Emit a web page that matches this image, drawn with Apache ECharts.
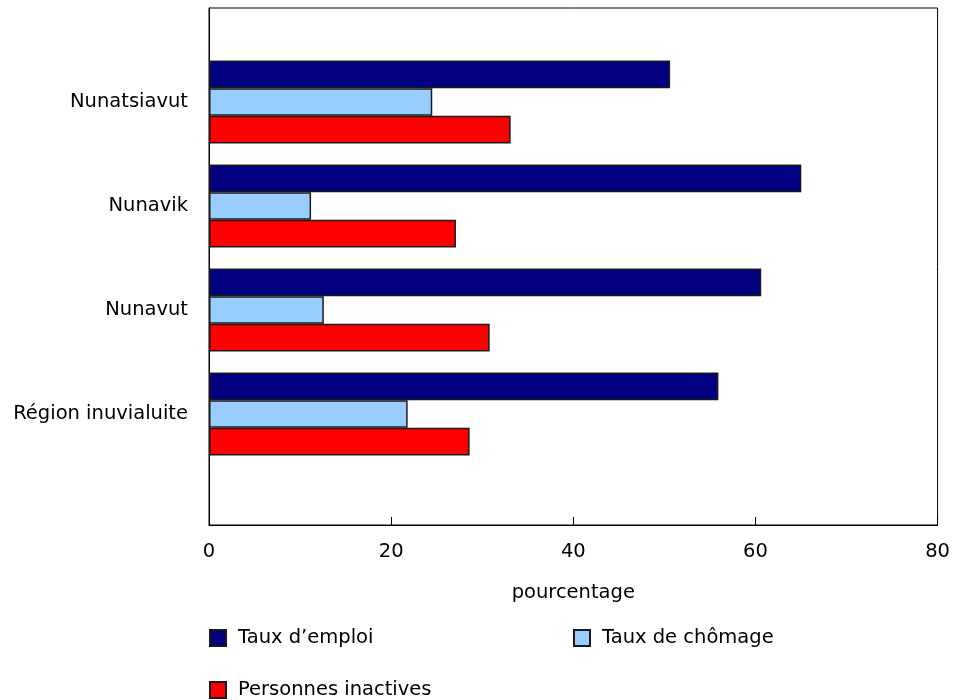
<!DOCTYPE html>
<html>
<head>
<meta charset="utf-8">
<script src="https://cdn.jsdelivr.net/npm/echarts@6/dist/echarts.min.js"></script>
<style>html,body{margin:0;padding:0;background:#fff}#c{width:953px;height:700px}</style>
</head>
<body>
<div id="c"></div>
<script>
const categories = ['Nunatsiavut', 'Nunavik', 'Nunavut', 'Région inuvialuite'];
const tauxEmploi = [50.6, 65.0, 60.6, 55.9];
const tauxChomage = [24.5, 11.2, 12.6, 21.8];
const personnesInactives = [33.1, 27.1, 30.8, 28.6];
const xTicks = [0, 20, 40, 60, 80];
const seriesNames = ['Taux d\u2019emploi', 'Taux de chômage', 'Personnes inactives'];
const seriesColors = ['#000080', '#99CCFF', '#FF0000'];

const FONT = 'DejaVu Sans';
const FS = 19.5;
const chart = echarts.init(document.getElementById('c'));
const values = [tauxEmploi, tauxChomage, personnesInactives];

const legendCommon = {
  icon: 'rect', itemWidth: 16, itemHeight: 16, orient: 'horizontal', padding: 0,
  textStyle: { fontFamily: FONT, fontSize: FS, color: '#000', padding: [0, 0, 0, 7] },
  selectedMode: false
};

chart.setOption({
  animation: false,
  grid: [
    { left: 209, top: 8, width: 729, height: 517, show: true, borderColor: '#000', borderWidth: 1, containLabel: false },
    { left: 209, top: 50, width: 729, height: 416, containLabel: false }
  ],
  xAxis: [
    {
      gridIndex: 0, type: 'value', min: xTicks[0], max: xTicks[xTicks.length - 1], interval: 20,
      axisLine: { show: true, lineStyle: { color: '#000', width: 1 } },
      axisTick: { show: true, inside: true, length: 8, lineStyle: { color: '#000' } },
      axisLabel: { fontFamily: FONT, fontSize: FS, color: '#000', margin: 17 },
      splitLine: { show: false },
      name: 'pourcentage', nameLocation: 'middle', nameGap: 58,
      nameTextStyle: { fontFamily: FONT, fontSize: FS, color: '#000' }
    },
    {
      gridIndex: 1, type: 'value', min: xTicks[0], max: xTicks[xTicks.length - 1],
      show: false
    }
  ],
  yAxis: [
    {
      gridIndex: 0, type: 'category', data: [''],
      axisLine: { show: true, lineStyle: { color: '#000' } },
      axisTick: { show: false }, axisLabel: { show: false }
    },
    {
      gridIndex: 1, type: 'category', data: categories, inverse: true,
      axisLine: { show: false }, axisTick: { show: false },
      axisLabel: { fontFamily: FONT, fontSize: FS, color: '#000', margin: 21 }
    }
  ],
  legend: [
    Object.assign({}, legendCommon, { data: [seriesNames[0]], left: 209, top: 628 }),
    Object.assign({}, legendCommon, { data: [seriesNames[1]], left: 573, top: 628 }),
    Object.assign({}, legendCommon, { data: [seriesNames[2]], left: 209, top: 680 })
  ],
  series: values.map((v, i) => ({
    name: seriesNames[i], type: 'bar', xAxisIndex: 1, yAxisIndex: 1,
    data: v, barGap: '0%', barCategoryGap: '20%',
    itemStyle: { color: seriesColors[i], borderColor: '#1a1a1a', borderWidth: 1.5 }
  }))
});
</script>
</body>
</html>
